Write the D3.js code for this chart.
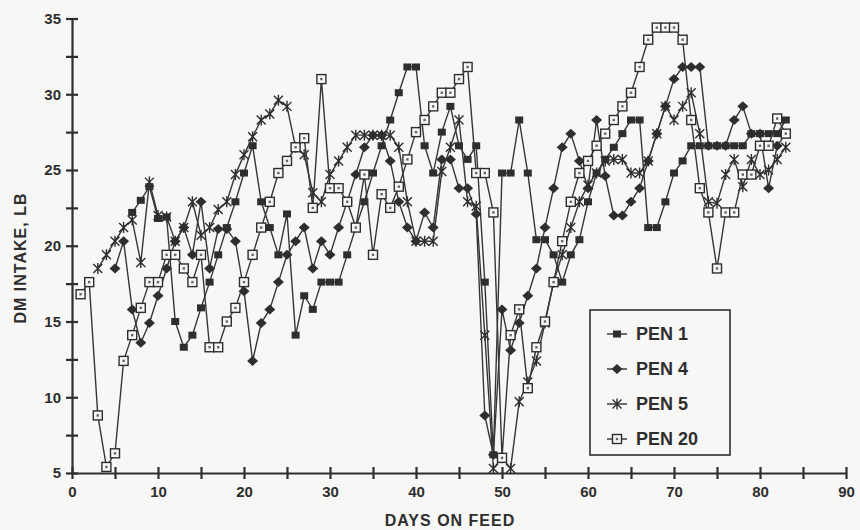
<!DOCTYPE html>
<html>
<head>
<meta charset="utf-8">
<script src="https://cdn.jsdelivr.net/npm/d3@7"></script>
<style>
    html, body { margin: 0; padding: 0; background: #f7f7f5; }
    svg { display: block; font-family: "Liberation Sans", Arial, sans-serif; }
</style>
</head>
<body>
<script>
// daily DM intake per pen, each list starts on its own first day
var pen1Start = 7;
var pen1 = [22.2, 23.0, 23.9, 21.8, 21.9, 15.0, 13.3, 14.1, 15.9, 17.6,
    19.4, 21.2, 22.9, 24.8, 26.6, 22.9, 21.2, 19.4, 22.1, 14.1,
    16.7, 15.8, 17.6, 17.6, 17.6, 19.4, 21.2, 22.9, 24.8, 26.6,
    28.3, 30.1, 31.8, 31.8, 26.6, 24.8, 27.5, 29.2, 26.6, 25.7,
    26.6, 17.6, 6.2, 24.8, 24.8, 28.3, 24.8, 20.4, 20.4, 19.4,
    17.6, 19.4, 20.4, 22.9, 24.8, 25.7, 26.5, 27.4, 28.3, 28.3,
    21.2, 21.2, 22.9, 24.8, 25.6, 26.6, 26.6, 26.6, 26.6, 26.6,
    26.6, 26.6, 27.4, 27.4, 27.4, 27.4, 28.3];

var pen4Start = 5;
var pen4 = [18.5, 20.3, 15.8, 13.6, 14.9, 16.7, 18.5, 20.3, 21.2, 19.4,
    22.9, 18.5, 21.1, 21.1, 20.3, 17.0, 12.4, 14.9, 15.8, 17.6,
    19.4, 20.3, 21.2, 18.5, 20.3, 19.4, 21.2, 22.9, 24.7, 26.5,
    27.3, 27.3, 25.6, 22.9, 21.2, 20.3, 22.2, 21.2, 25.7, 25.7,
    23.8, 23.8, 22.1, 8.8, 6.2, 15.8, 13.1, 14.9, 16.7, 18.5,
    21.2, 23.8, 26.5, 27.4, 25.6, 23.8, 28.3, 24.6, 22.0, 22.0,
    22.9, 23.8, 25.6, 27.4, 29.2, 31.0, 31.8, 31.8, 31.8, 26.6,
    26.6, 26.6, 28.3, 29.2, 27.4, 27.4, 23.8, 26.6, 27.4];

var pen5Start = 3;
var pen5 = [18.5, 19.4, 20.3, 21.2, 21.7, 18.9, 24.2, 22.0, 21.9, 20.3,
    21.2, 22.9, 20.7, 21.2, 22.4, 22.9, 24.7, 26.0, 27.2, 28.3,
    28.7, 29.6, 29.2, 26.5, 26.0, 23.5, 22.9, 24.7, 25.6, 26.5,
    27.3, 27.3, 27.3, 27.3, 27.3, 26.5, 22.9, 20.3, 20.3, 20.3,
    24.9, 26.5, 28.3, 22.9, 22.6, 14.1, 5.3, 6.0, 5.3, 9.7,
    11.0, 12.4, 14.9, 17.6, 19.4, 21.2, 22.9, 24.0, 24.8, 25.6,
    25.7, 25.7, 24.8, 24.8, 25.6, 27.4, 29.2, 28.3, 29.2, 30.1,
    27.4, 22.9, 22.8, 24.7, 25.7, 23.9, 25.7, 24.7, 25.0, 25.7,
    26.5];

var pen20Start = 1;
var pen20 = [16.8, 17.6, 8.8, 5.4, 6.3, 12.4, 14.1, 15.9, 17.6, 17.6,
    19.4, 19.4, 18.5, 17.6, 19.4, 13.3, 13.3, 15.0, 15.9, 17.6,
    19.4, 21.2, 22.9, 24.8, 25.6, 26.5, 27.1, 22.5, 31.0, 23.8,
    23.8, 22.9, 21.2, 24.7, 19.4, 23.4, 22.5, 23.9, 25.7, 27.5,
    28.3, 29.2, 30.1, 30.1, 31.0, 31.8, 24.8, 24.8, 22.2, 6.0,
    14.1, 15.8, 10.6, 13.3, 15.0, 17.6, 20.3, 22.9, 24.8, 25.6,
    26.6, 27.4, 28.3, 29.2, 30.1, 31.8, 33.6, 34.4, 34.4, 34.4,
    33.6, 28.3, 23.8, 22.2, 18.5, 22.2, 22.2, 24.7, 24.7, 26.6,
    26.6, 28.4, 27.4];

var penNames = ["PEN 1", "PEN 4", "PEN 5", "PEN 20"];
var xTicks = d3.range(0, 91, 5);
var yTicks = d3.range(5, 35.1, 2.5);

var ink = "#2e2e2e";
var paper = "#f7f7f5";

var series = [
    { name: penNames[0], type: "square", start: pen1Start, values: pen1 },
    { name: penNames[1], type: "diamond", start: pen4Start, values: pen4 },
    { name: penNames[2], type: "star", start: pen5Start, values: pen5 },
    { name: penNames[3], type: "open", start: pen20Start, values: pen20 }
];

var svg = d3.select("body").append("svg")
    .attr("width", 860)
    .attr("height", 530);

var x = d3.scaleLinear().domain([0, 90]).range([72, 846]);
var y = d3.scaleLinear().domain([5, 35]).range([473, 18.5]);

// axes
var yAxis = svg.append("g")
    .attr("transform", "translate(72,0)")
    .call(d3.axisLeft(y)
        .tickValues(yTicks)
        .tickSizeOuter(0)
        .tickFormat(function (d) { return d % 5 === 0 ? d : ""; }));

var xAxis = svg.append("g")
    .attr("transform", "translate(0,473)")
    .call(d3.axisBottom(x)
        .tickValues(xTicks)
        .tickSizeOuter(0)
        .tickFormat(function (d) { return d % 10 === 0 ? d : ""; }));

yAxis.selectAll(".tick line").attr("x1", 6).attr("x2", -6);
yAxis.selectAll(".tick text").attr("x", -11);
xAxis.selectAll(".tick line").attr("y1", -6).attr("y2", 6);
xAxis.selectAll(".tick text").attr("y", 13);

svg.selectAll(".domain, .tick line")
    .attr("stroke", ink)
    .attr("stroke-width", 2.2);
svg.selectAll(".tick text")
    .attr("fill", ink)
    .style("font-size", "15px")
    .style("font-weight", "bold")
    .style("font-family", "'Liberation Sans', Arial, sans-serif");

svg.append("text")
    .attr("x", 450)
    .attr("y", 526)
    .attr("text-anchor", "middle")
    .attr("fill", ink)
    .style("font-size", "16px")
    .style("font-weight", "bold")
    .style("letter-spacing", "1px")
    .text("DAYS ON FEED");

svg.append("text")
    .attr("transform", "translate(26,258) rotate(-90)")
    .attr("text-anchor", "middle")
    .attr("fill", ink)
    .style("font-size", "16px")
    .style("font-weight", "bold")
    .style("letter-spacing", "1px")
    .text("DM INTAKE, LB");

function drawMarker(g, type) {
    if (type === "square") {
        g.append("rect").attr("x", -4).attr("y", -3.5).attr("width", 8).attr("height", 7)
            .attr("fill", ink);
    } else if (type === "diamond") {
        g.append("path").attr("d", "M0,-5L5.5,0L0,5L-5.5,0Z").attr("fill", ink);
    } else if (type === "star") {
        g.append("path").attr("d", "M-4.5,-4.5L4.5,4.5M-4.5,4.5L4.5,-4.5M0,-5.5L0,5.5")
            .attr("stroke", ink).attr("stroke-width", 1.4).attr("fill", "none");
    } else {
        g.append("rect").attr("x", -4.5).attr("y", -4.5).attr("width", 9).attr("height", 9)
            .attr("fill", paper).attr("stroke", ink).attr("stroke-width", 1.4);
        g.append("rect").attr("x", -1.2).attr("y", -1.2).attr("width", 2.4).attr("height", 2.4)
            .attr("fill", "#666");
    }
}

var line = d3.line()
    .x(function (d) { return x(d.day); })
    .y(function (d) { return y(d.value); });

series.forEach(function (s) {
    var points = s.values.map(function (v, i) {
        return { day: s.start + i, value: v };
    });

    svg.append("path")
        .datum(points)
        .attr("d", line)
        .attr("fill", "none")
        .attr("stroke", "#363636")
        .attr("stroke-width", 1.4);

    svg.append("g").selectAll("g")
        .data(points)
        .enter()
        .append("g")
        .attr("transform", function (d) { return "translate(" + x(d.day) + "," + y(d.value) + ")"; })
        .each(function () { drawMarker(d3.select(this), s.type); });
});

// legend
var legend = svg.append("g").attr("transform", "translate(590,310)");

legend.append("rect")
    .attr("width", 140)
    .attr("height", 145)
    .attr("fill", paper)
    .attr("stroke", ink)
    .attr("stroke-width", 1.6);

var rows = legend.selectAll(".row")
    .data(series)
    .enter()
    .append("g")
    .attr("class", "row")
    .attr("transform", function (d, i) { return "translate(0," + (24 + i * 35) + ")"; });

rows.append("line")
    .attr("x1", 17).attr("x2", 37)
    .attr("stroke", ink).attr("stroke-width", 1.4);

rows.append("g")
    .attr("transform", "translate(27,0)")
    .each(function (d) { drawMarker(d3.select(this), d.type); });

rows.append("text")
    .attr("x", 46)
    .attr("y", 6)
    .attr("fill", ink)
    .style("font-size", "18px")
    .style("font-weight", "bold")
    .text(function (d) { return d.name; });
</script>
</body>
</html>
